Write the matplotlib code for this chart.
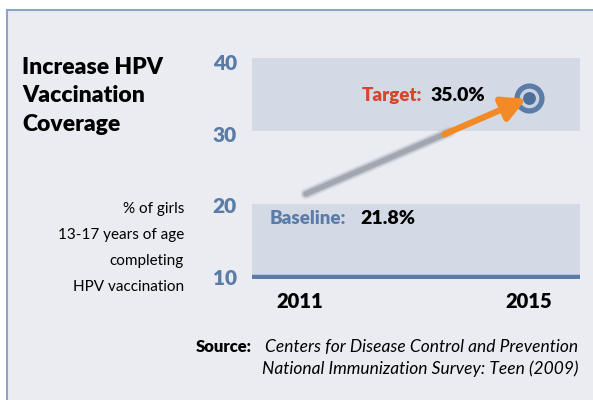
import matplotlib
matplotlib.use("Agg")
import matplotlib.pyplot as plt
from matplotlib.patches import Rectangle

# data
years = [2011, 2015]
year_labels = ["2011", "2015"]
values = [21.8, 35.0]
yticks = [10, 20, 30, 40]
labels = ["Baseline:", "Target:"]

BLUE = "#5a7ca7"
BAND = "#d3d9e5"
BG = "#eaecf2"
RED = "#d8452c"
ORANGE = "#f28a25"
FONT = ["Lato", "DejaVu Sans"]

W, H = 593, 400
fig = plt.figure(figsize=(W / 100, H / 100), dpi=100)
fig.patch.set_facecolor("white")

# panel
fig.patches.append(Rectangle((7 / W, -0.05), 1.0, (H - 10) / H + 0.05,
                             transform=fig.transFigure, facecolor=BG,
                             edgecolor="#8fa3c2", lw=1.5, zorder=-5))

# chart axes: x 252..580 px, y 58..279 px
ax = fig.add_axes([252 / W, (H - 279.2) / H, 328 / W, (279.2 - 58.4) / H])
ax.set_zorder(2)
ax.set_facecolor("none")
ax.set_xlim(2010.16, 2015.89)
ax.set_ylim(9.7, 40.5)
for s in ax.spines.values():
    s.set_visible(False)

ax.axhspan(30.4, 40.5, color=BAND, lw=0, zorder=1)
ax.axhspan(10, 20.2, color=BAND, lw=0, zorder=1)
ax.axhline(10, color=BLUE, lw=3.2, zorder=2)

ax.set_yticks(yticks)
ax.set_yticklabels([str(t) for t in yticks])
ax.set_xticks(years)
ax.set_xticklabels(year_labels)
ax.tick_params(axis="y", length=0, pad=11, labelsize=15, labelcolor=BLUE)
ax.tick_params(axis="x", length=0, pad=9, labelsize=14.5)
for t in ax.get_yticklabels() + ax.get_xticklabels():
    t.set_fontweight("heavy")
    t.set_fontfamily(FONT)

# arrow: blurred gray tail, orange head
x0, y0 = years[0] + 0.1, values[0] - 0.2
x1, y1 = years[1], values[1]
split = 0.62
xm, ym = x0 + (x1 - x0) * split, y0 + (y1 - y0) * split
for lw, al in [(8, 0.12), (6.5, 0.18), (5, 0.3), (3.5, 0.5)]:
    ax.plot([x0, xm + 0.1], [y0, ym + 0.1 * (y1 - y0) / (x1 - x0)],
            color="#8a919d", lw=lw, alpha=al, solid_capstyle="round",
            zorder=3)
ax.annotate("", xy=(x1 - 0.05, y1 - 0.15), xytext=(xm, ym),
            arrowprops=dict(arrowstyle="-|>,head_length=1.4,head_width=0.75",
                            color=ORANGE, lw=4.5, shrinkA=0, shrinkB=0),
            zorder=5)

# target marker
ax.scatter([x1], [y1], s=470, color=BLUE, zorder=4, lw=0)
ax.scatter([x1], [y1], s=200, color="#c8d1e0", zorder=4, lw=0)
ax.scatter([x1], [y1], s=85, color="#4d6f9c", zorder=6, lw=0)

# value labels
ax.text(2013.13, values[1] + 0.3, labels[1], color=RED, fontsize=13.5,
        fontweight="heavy", family=FONT, ha="right", va="center", zorder=6)
ax.text(2013.27, values[1] + 0.3, f"{values[1]:.1f}%", color="black",
        fontsize=14, fontweight="heavy", family=FONT, ha="left",
        va="center", zorder=6)
ax.text(2010.47, 18.2, labels[0], color=BLUE, fontsize=13.5,
        fontweight="heavy", family=FONT, ha="left", va="center", zorder=6)
ax.text(2012.05, 18.2, f"{values[0]:.1f}%", color="black", fontsize=14,
        fontweight="heavy", family=FONT, ha="left", va="center", zorder=6)

# title and axis description
fig.text(22 / W, 1 - 96 / H, "Increase HPV\nVaccination\nCoverage",
         fontsize=16.5, fontweight="heavy", family=FONT, ha="left",
         va="center", linespacing=1.42)
fig.text(184 / W, 1 - 248 / H,
         "% of girls\n13-17 years of age\ncompleting\nHPV vaccination",
         fontsize=11, family=FONT, ha="right", va="center",
         linespacing=2.08, multialignment="right")

# source
fig.text(196 / W, 1 - 347 / H, "Source:", fontsize=12, fontweight="heavy",
         family=FONT, ha="left", va="center")
fig.text(578 / W, 1 - 347 / H, "Centers for Disease Control and Prevention",
         fontsize=12.5, style="italic", family=FONT, ha="right", va="center")
fig.text(578 / W, 1 - 369 / H, "National Immunization Survey: Teen (2009)",
         fontsize=12.5, style="italic", family=FONT, ha="right", va="center")

fig.savefig("out.png", dpi=100, facecolor=fig.get_facecolor())
